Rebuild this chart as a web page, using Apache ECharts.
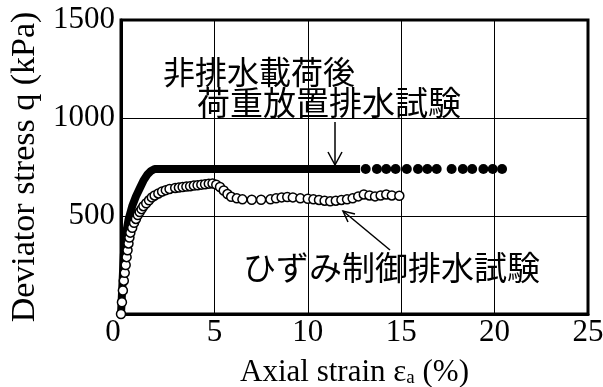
<!DOCTYPE html>
<html><head><meta charset="utf-8">
<script src="https://cdn.jsdelivr.net/npm/echarts@6/dist/echarts.min.js"></script>
<style>html,body{margin:0;padding:0;background:#fff}#c{width:603px;height:387px}</style>
</head><body><div id="c"></div>
<script>
// Tick values
const xTicks = [0, 5, 10, 15, 20, 25];
const yTicks = [0, 500, 1000, 1500];

// Series: 非排水載荷後 荷重放置排水試験 (filled) — continuous part
const loadStrain = [0, 0.05, 0.1, 0.15, 0.25, 0.4, 0.6, 0.8, 1.0, 1.2, 1.4, 1.6, 1.8, 3, 6, 9, 12.8];
const loadQ      = [0, 100, 200, 300, 400, 480, 550, 600, 640, 680, 710, 730, 740, 740, 740, 740, 740];
// sparse dots at the end of the same test
const loadDotStrain = [13.1, 13.7, 14.2, 14.7, 15.3, 15.9, 16.4, 16.9, 17.7, 18.3, 18.8, 19.4, 19.9, 20.4];
const loadDotQ      = [740, 740, 740, 740, 740, 740, 740, 740, 740, 740, 740, 740, 740, 740];

// Series: ひずみ制御排水試験 (open circles)
const strainStrain = [0,0.05,0.1,0.15,0.2,0.25,0.3,0.35,0.4,0.45,0.5,0.6,0.7,0.8,0.9,1.0,1.1,1.2,1.35,1.5,1.65,1.8,2.0,2.2,2.4,2.6,2.9,3.1,3.3,3.5,3.7,3.9,4.1,4.3,4.5,4.7,4.9,5.1,5.3,5.5,5.7,5.9,6.2,6.5,7.0,7.5,8.0,8.3,8.6,8.9,9.2,9.6,10.0,10.3,10.6,10.9,11.2,11.5,11.8,12.1,12.4,12.7,13.0,13.3,13.6,13.9,14.2,14.5,14.9];
const strainQ      = [0,60,120,170,210,250,290,325,360,390,415,440,465,485,505,520,535,550,565,580,595,605,615,625,632,638,643,645,648,650,652,655,657,660,662,665,666,660,648,630,612,598,590,585,583,583,585,590,595,597,595,590,588,585,582,578,575,578,582,585,590,600,610,605,600,605,610,605,603];

const zip = (a, b) => a.map((v, i) => [v, b[i]]);

const chart = echarts.init(document.getElementById('c'));
const serif = 'Liberation Serif';
const jpFont = '32px "Noto Sans CJK JP"';
const jpFont2 = '33px "Noto Sans CJK JP"';
chart.setOption({
  animation: false,
  grid: { left: 121, right: 15, top: 20, bottom: 73, show: true, borderColor: '#000', borderWidth: 3, containLabel: false, outerBoundsMode: 'none' },
  xAxis: {
    type: 'value', min: xTicks[0], max: xTicks[xTicks.length - 1], interval: 5,
    name: '{n|Axial strain ε}{s|a}{n| (%)}', nameLocation: 'middle', nameGap: 43,
    nameTextStyle: { rich: { n: { fontFamily: serif, fontSize: 31, color: '#000' }, s: { fontFamily: serif, fontSize: 19, color: '#000', verticalAlign: 'bottom', padding: [12, 0, 0, 0] } } },
    axisLine: { lineStyle: { color: '#000', width: 3 } },
    axisTick: { show: false },
    splitLine: { show: true, lineStyle: { color: '#000', width: 1 } },
    axisLabel: {
      color: '#000', fontFamily: serif, fontSize: 31, margin: 3,
      formatter: v => v === 0 ? '{z|0}' : String(v),
      rich: { z: { fontFamily: serif, fontSize: 31, color: '#000', padding: [0, 16, 0, 0] } }
    }
  },
  yAxis: {
    type: 'value', min: yTicks[0], max: yTicks[yTicks.length - 1], interval: 500,
    name: 'Deviator stress q (kPa)', nameLocation: 'middle', nameGap: 78, nameRotate: 90,
    nameTextStyle: { fontFamily: serif, fontSize: 34, color: '#000' },
    axisLine: { lineStyle: { color: '#000', width: 3 } },
    axisTick: { show: false },
    splitLine: { show: true, lineStyle: { color: '#000', width: 1 } },
    axisLabel: { color: '#000', fontFamily: serif, fontSize: 31, margin: 6, formatter: v => v === 0 ? '' : String(v) }
  },
  series: [
    { type: 'line', data: zip(loadStrain, loadQ), symbol: 'none', lineStyle: { color: '#000', width: 8 }, z: 3 },
    { type: 'scatter', data: zip(loadDotStrain, loadDotQ), symbol: 'circle', symbolSize: 10, itemStyle: { color: '#000', opacity: 1 }, z: 3 },
    { type: 'scatter', data: zip(strainStrain, strainQ), symbol: 'circle', symbolSize: 9,
      itemStyle: { color: '#fff', borderColor: '#000', borderWidth: 1.5, opacity: 1 }, z: 4 }
  ],
  graphic: [
    { type: 'text', left: 163, top: 56, style: { text: '非排水載荷後', font: jpFont, fill: '#000' } },
    { type: 'text', left: 197, top: 86, style: { text: '荷重放置排水試験', font: jpFont2, fill: '#000' } },
    { type: 'text', left: 243, top: 251, style: { text: 'ひずみ制御排水試験', font: jpFont2, fill: '#000' } },
    { type: 'line', shape: { x1: 335, y1: 122, x2: 335, y2: 165 }, style: { stroke: '#000', lineWidth: 1.5 }, z: 10 },
    { type: 'polyline', shape: { points: [[328, 152], [335, 165], [342, 152]] }, style: { stroke: '#000', lineWidth: 1.5, fill: null }, z: 10 },
    { type: 'line', shape: { x1: 390, y1: 250, x2: 343, y2: 211 }, style: { stroke: '#000', lineWidth: 1.5 }, z: 10 },
    { type: 'polyline', shape: { points: [[348, 222], [343, 211], [355, 214]] }, style: { stroke: '#000', lineWidth: 1.5, fill: null }, z: 10 }
  ]
});
</script></body></html>
